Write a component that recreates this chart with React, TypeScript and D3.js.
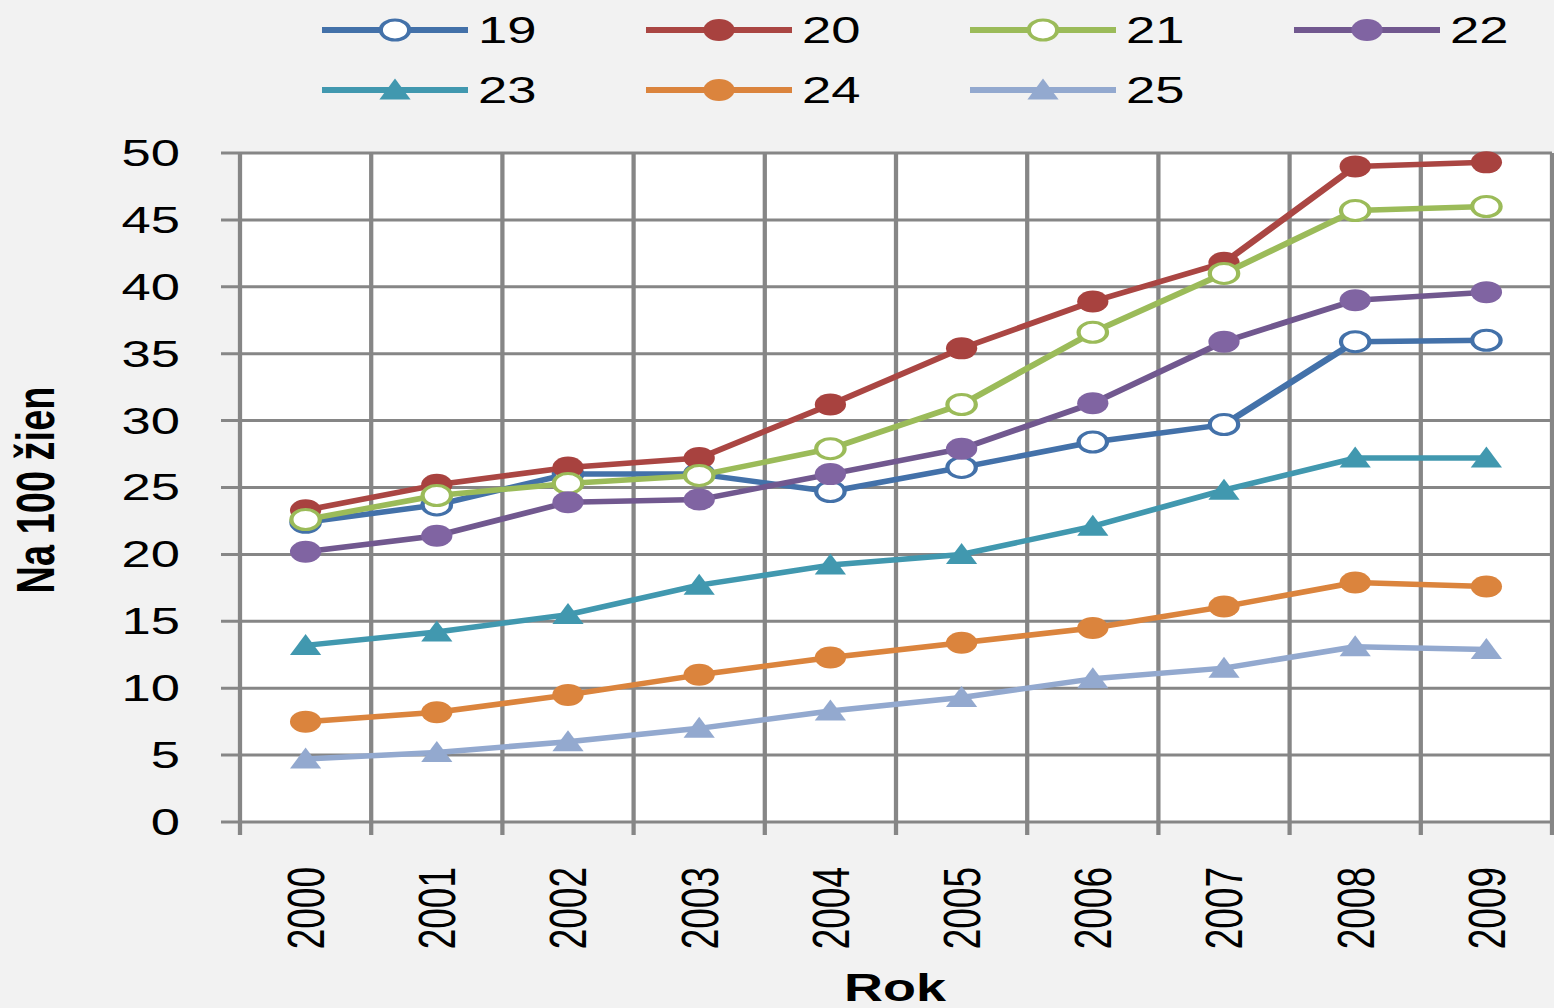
import React from 'react'
import * as d3 from 'd3'

// chart values
const years = ['2000', '2001', '2002', '2003', '2004', '2005', '2006', '2007', '2008', '2009']
const yTicks = [0, 5, 10, 15, 20, 25, 30, 35, 40, 45, 50]

const age19 = [22.4, 23.7, 26.0, 26.0, 24.7, 26.5, 28.4, 29.7, 35.9, 36.0]
const age20 = [23.3, 25.2, 26.5, 27.2, 31.2, 35.4, 38.9, 41.8, 49.0, 49.3]
const age21 = [22.6, 24.4, 25.3, 25.9, 27.9, 31.2, 36.6, 41.0, 45.7, 46.0]
const age22 = [20.2, 21.4, 23.9, 24.1, 26.0, 27.9, 31.3, 35.9, 39.0, 39.6]
const age23 = [13.2, 14.2, 15.5, 17.7, 19.2, 20.0, 22.1, 24.8, 27.2, 27.2]
const age24 = [7.5, 8.2, 9.5, 11.0, 12.3, 13.4, 14.5, 16.1, 17.9, 17.6]
const age25 = [4.7, 5.2, 6.0, 7.0, 8.3, 9.3, 10.7, 11.5, 13.1, 12.9]

type Marker = 'open' | 'dot' | 'tri'
interface Series { name: string; values: number[]; line: string; fill: string; marker: Marker }

const series: Series[] = [
  { name: '19', values: age19, line: '#4371A9', fill: '#4371A9', marker: 'open' },
  { name: '20', values: age20, line: '#AA4643', fill: '#A8423F', marker: 'dot' },
  { name: '21', values: age21, line: '#9BBB59', fill: '#9BBB59', marker: 'open' },
  { name: '22', values: age22, line: '#71588F', fill: '#8064A2', marker: 'dot' },
  { name: '23', values: age23, line: '#4198AF', fill: '#4198AF', marker: 'tri' },
  { name: '24', values: age24, line: '#DB843D', fill: '#DB843D', marker: 'dot' },
  { name: '25', values: age25, line: '#93A9CF', fill: '#93A9CF', marker: 'tri' },
]

// the reference is stretched horizontally; draw in a narrower space and stretch it back
const SX = 1.42
const W = 1554
const H = 1008
const VW = W / SX
const left = 240 / SX
const right = 1552 / SX
const top = 153
const bottom = 822
const FONT = '"Liberation Sans", Arial, sans-serif'

const triPath = 'M0,-11.5L11,9.5L-11,9.5Z'

const MarkerShape: React.FC<{ s: Series; x: number; y: number }> = ({ s, x, y }) => {
  if (s.marker === 'tri') {
    return <path d={triPath} transform={`translate(${x},${y})`} fill={s.fill} />
  }
  if (s.marker === 'open') {
    return <circle cx={x} cy={y} r={10} fill="#fff" stroke={s.line} strokeWidth={3} />
  }
  return <circle cx={x} cy={y} r={11} fill={s.fill} />
}

const App: React.FC = () => {
  const x = d3.scaleBand<string>().domain(years).range([left, right])
  const cx = (yr: string) => (x(yr) as number) + x.bandwidth() / 2
  const y = d3.scaleLinear([0, 50], [bottom, top])
  const line = d3.line<number>()
    .x((_, i) => cx(years[i]))
    .y((d) => y(d))

  const edges = [...years.map((yr) => x(yr) as number), right]

  return (
    <svg
      width={W}
      height={H}
      viewBox={`0 0 ${VW} ${H}`}
      preserveAspectRatio="none"
      style={{ position: 'absolute', left: 0, top: 0, background: '#F2F2F2' }}
    >
      <rect x={0} y={0} width={VW} height={H} fill="#F2F2F2" />
      <rect x={left} y={top} width={right - left} height={bottom - top} fill="#fff" />

      {/* grid */}
      {yTicks.map((t) => (
        <line key={'h' + t} x1={221 / SX} x2={right} y1={y(t)} y2={y(t)} stroke="#868686" strokeWidth={3} />
      ))}
      {edges.map((e, i) => (
        <line key={'v' + i} x1={e} x2={e} y1={top} y2={835} stroke="#868686" strokeWidth={3} />
      ))}

      {/* y labels */}
      {yTicks.map((t) => (
        <text key={'yt' + t} x={180 / SX} y={y(t)} dy="0.35em" textAnchor="end"
          fontFamily={FONT} fontSize={37} fill="#000">{t}</text>
      ))}
      {/* x labels */}
      {years.map((yr) => (
        <text key={'xt' + yr} transform={`translate(${cx(yr)},867) rotate(-90)`} dy="0.35em"
          textAnchor="end" fontFamily={FONT} fontSize={37} fill="#000">{yr}</text>
      ))}

      <text transform={`translate(${35 / SX},490) rotate(-90)`} dy="0.35em" textAnchor="middle"
        fontFamily={FONT} fontSize={38} fontWeight="bold" fill="#000">Na 100 žien</text>
      <text x={895 / SX} y={1001} textAnchor="middle" fontFamily={FONT} fontSize={38}
        fontWeight="bold" fill="#000">Rok</text>

      {/* series */}
      {series.map((s) => (
        <g key={s.name}>
          <path d={line(s.values) as string} fill="none" stroke={s.line} strokeWidth={5.5} strokeLinejoin="round" />
          {s.values.map((v, i) => (
            <MarkerShape key={i} s={s} x={cx(years[i])} y={y(v)} />
          ))}
        </g>
      ))}

      {/* legend */}
      {series.map((s, i) => {
        const col = i % 4
        const row = Math.floor(i / 4)
        const lx = (322 + col * 324) / SX
        const lw = 146 / SX
        const ly = 30 + row * 60
        return (
          <g key={'lg' + s.name}>
            <line x1={lx} x2={lx + lw} y1={ly} y2={ly} stroke={s.line} strokeWidth={6} />
            <MarkerShape s={s} x={lx + lw / 2} y={ly} />
            <text x={lx + lw + 10 / SX} y={ly} dy="0.35em" fontFamily={FONT} fontSize={37} fill="#000">{s.name}</text>
          </g>
        )
      })}
    </svg>
  )
}

export default App
